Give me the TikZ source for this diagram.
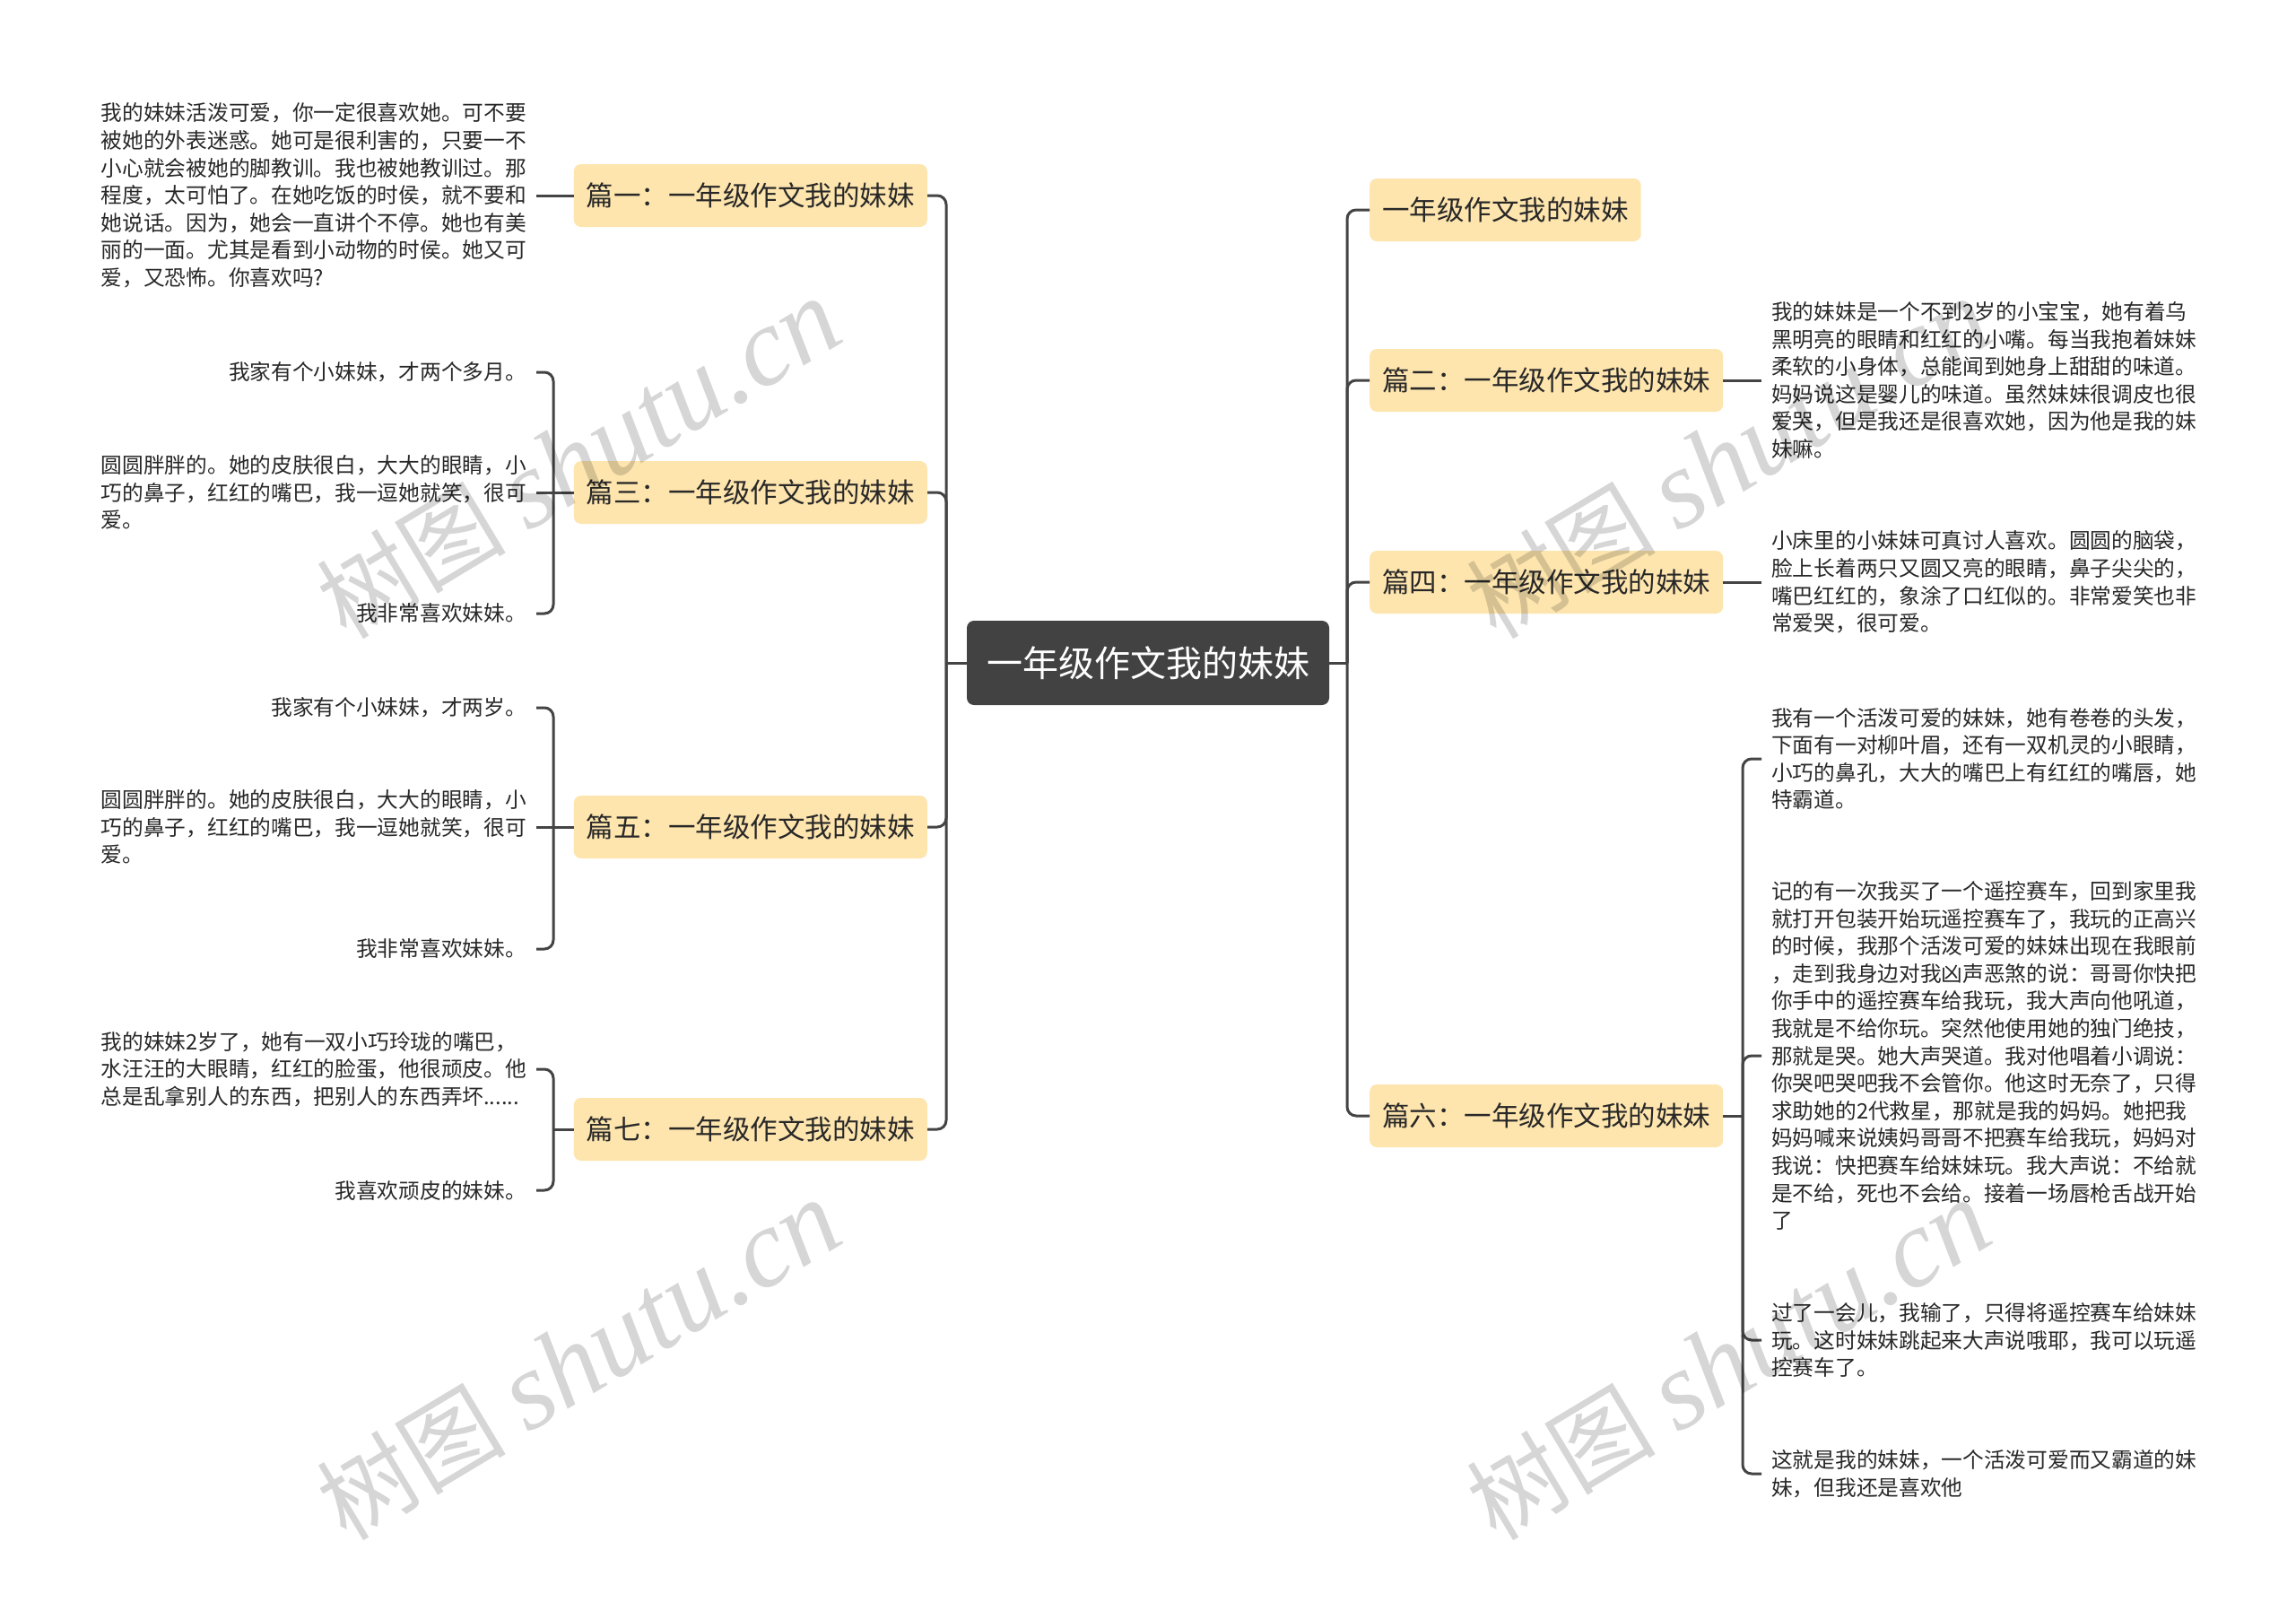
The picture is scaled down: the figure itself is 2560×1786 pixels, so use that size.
\documentclass[tikz,border=0pt]{standalone}
\usepackage{fontspec}
\setmainfont{Noto Sans CJK SC}
\newfontfamily\wmlatin{Liberation Serif}
\definecolor{boxfill}{RGB}{254,229,174}
\definecolor{rootfill}{RGB}{66,66,66}
\definecolor{linec}{RGB}{68,68,68}
\definecolor{textc}{RGB}{40,40,40}
\tikzset{
  l1box/.style={fill=boxfill, rounded corners=8pt, minimum height=70pt, inner xsep=14pt, inner ysep=0pt, text=textc, font=\fontsize{30.5}{38}\selectfont},
  rootbox/.style={fill=rootfill, text=white, rounded corners=8pt, minimum height=94pt, minimum width=404pt, inner xsep=10pt, font=\fontsize{40}{48}\selectfont},
  leaf/.style={inner xsep=11pt, inner ysep=0pt, align=left, text=textc, font=\fontsize{23.7}{30.6}\selectfont},
  leafr/.style={leaf, align=right},
  conn/.style={draw=linec, line width=3pt, rounded corners=10pt},
  wm/.style={text=black, opacity=0.16, font=\fontsize{106}{110}\selectfont, inner sep=0pt}
}
\begin{document}
\begin{tikzpicture}[x=1pt,y=-1pt]
\useasboundingbox (0,0) rectangle (2560,1786);
\fill[white] (0,0) rectangle (2560,1786);

% root
\node[rootbox] (root) at (1280,739) {一年级作文我的妹妹};

% left level-1
\node[l1box, anchor=east] (L1) at (1034,218) {篇一：一年级作文我的妹妹};
\node[l1box, anchor=east] (L3) at (1034,549) {篇三：一年级作文我的妹妹};
\node[l1box, anchor=east] (L5) at (1034,922) {篇五：一年级作文我的妹妹};
\node[l1box, anchor=east] (L7) at (1034,1259) {篇七：一年级作文我的妹妹};

% right level-1
\node[l1box, anchor=west] (R1) at (1527,234) {一年级作文我的妹妹};
\node[l1box, anchor=west] (R2) at (1527,424) {篇二：一年级作文我的妹妹};
\node[l1box, anchor=west] (R4) at (1527,649) {篇四：一年级作文我的妹妹};
\node[l1box, anchor=west] (R6) at (1527,1244) {篇六：一年级作文我的妹妹};

% left leaves
\node[leaf, anchor=east] (l1) at (598,218) {我的妹妹活泼可爱，你一定很喜欢她。可不要\\被她的外表迷惑。她可是很利害的，只要一不\\小心就会被她的脚教训。我也被她教训过。那\\程度，太可怕了。在她吃饭的时侯，就不要和\\她说话。因为，她会一直讲个不停。她也有美\\丽的一面。尤其是看到小动物的时侯。她又可\\爱，又恐怖。你喜欢吗?};

\node[leafr, anchor=east] (l3a) at (598,415) {我家有个小妹妹，才两个多月。};
\node[leaf, anchor=east] (l3b) at (598,549) {圆圆胖胖的。她的皮肤很白，大大的眼睛，小\\巧的鼻子，红红的嘴巴，我一逗她就笑，很可\\爱。};
\node[leafr, anchor=east] (l3c) at (598,684) {我非常喜欢妹妹。};

\node[leafr, anchor=east] (l5a) at (598,789) {我家有个小妹妹，才两岁。};
\node[leaf, anchor=east] (l5b) at (598,922) {圆圆胖胖的。她的皮肤很白，大大的眼睛，小\\巧的鼻子，红红的嘴巴，我一逗她就笑，很可\\爱。};
\node[leafr, anchor=east] (l5c) at (598,1058) {我非常喜欢妹妹。};

\node[leaf, anchor=east] (l7a) at (598,1192) {我的妹妹2岁了，她有一双小巧玲珑的嘴巴，\\水汪汪的大眼睛，红红的脸蛋，他很顽皮。他\\总是乱拿别人的东西，把别人的东西弄坏......};
\node[leafr, anchor=east] (l7b) at (598,1327) {我喜欢顽皮的妹妹。};

% right leaves
\node[leaf, anchor=west] (r2) at (1964,424) {我的妹妹是一个不到2岁的小宝宝，她有着乌\\黑明亮的眼睛和红红的小嘴。每当我抱着妹妹\\柔软的小身体，总能闻到她身上甜甜的味道。\\妈妈说这是婴儿的味道。虽然妹妹很调皮也很\\爱哭，但是我还是很喜欢她，因为他是我的妹\\妹嘛。};

\node[leaf, anchor=west] (r4) at (1964,649) {小床里的小妹妹可真讨人喜欢。圆圆的脑袋，\\脸上长着两只又圆又亮的眼睛，鼻子尖尖的，\\嘴巴红红的，象涂了口红似的。非常爱笑也非\\常爱哭，很可爱。};

\node[leaf, anchor=west] (r6a) at (1964,846) {我有一个活泼可爱的妹妹，她有卷卷的头发，\\下面有一对柳叶眉，还有一双机灵的小眼睛，\\小巧的鼻孔，大大的嘴巴上有红红的嘴唇，她\\特霸道。};
\node[leaf, anchor=west] (r6b) at (1964,1177) {记的有一次我买了一个遥控赛车，回到家里我\\就打开包装开始玩遥控赛车了，我玩的正高兴\\的时候，我那个活泼可爱的妹妹出现在我眼前\\，走到我身边对我凶声恶煞的说：哥哥你快把\\你手中的遥控赛车给我玩，我大声向他吼道，\\我就是不给你玩。突然他使用她的独门绝技，\\那就是哭。她大声哭道。我对他唱着小调说：\\你哭吧哭吧我不会管你。他这时无奈了，只得\\求助她的2代救星，那就是我的妈妈。她把我\\妈妈喊来说姨妈哥哥不把赛车给我玩，妈妈对\\我说：快把赛车给妹妹玩。我大声说：不给就\\是不给，死也不会给。接着一场唇枪舌战开始\\了};
\node[leaf, anchor=west] (r6c) at (1964,1494) {过了一会儿，我输了，只得将遥控赛车给妹妹\\玩。这时妹妹跳起来大声说哦耶，我可以玩遥\\控赛车了。};
\node[leaf, anchor=west] (r6d) at (1964,1643) {这就是我的妹妹，一个活泼可爱而又霸道的妹\\妹，但我还是喜欢他};

% spines
\draw[conn] (root.west) -- (1055,739) coordinate (lsp);
\foreach \n in {L1,L3,L5,L7} {\draw[conn] (lsp) |- (\n.east);}
\draw[conn] (root.east) -- (1502,739) coordinate (rsp);
\foreach \n in {R1,R2,R4,R6} {\draw[conn] (rsp) |- (\n.west);}

% left leaf connectors
\draw[conn] (L1.west) -- (l1.east);
\draw[conn] (L3.west) -- (l3b.east);
\coordinate (b3) at (617,549);
\draw[conn] (b3) |- (l3a.east);
\draw[conn] (b3) |- (l3c.east);
\draw[conn] (L5.west) -- (l5b.east);
\coordinate (b5) at (617,922);
\draw[conn] (b5) |- (l5a.east);
\draw[conn] (b5) |- (l5c.east);
\draw[conn] (L7.west) -- (617,1259) coordinate (b7);
\draw[conn] (b7) |- (l7a.east);
\draw[conn] (b7) |- (l7b.east);

% right leaf connectors
\draw[conn] (R2.east) -- (r2.west);
\draw[conn] (R4.east) -- (r4.west);
\draw[conn] (R6.east) -- (1943,1244) coordinate (b6);
\foreach \n in {r6a,r6b,r6c,r6d} {\draw[conn] (b6) |- (\n.west);}

% watermarks
\foreach \p [count=\i] in {(645,512),(645,1517),(1927,512),(1927,1517)} {
  \node[wm, rotate=31] (wm\i) at \p {树图 {\wmlatin\itshape\fontsize{124}{128}\selectfont shutu.cn}};
}
\end{tikzpicture}
\end{document}
